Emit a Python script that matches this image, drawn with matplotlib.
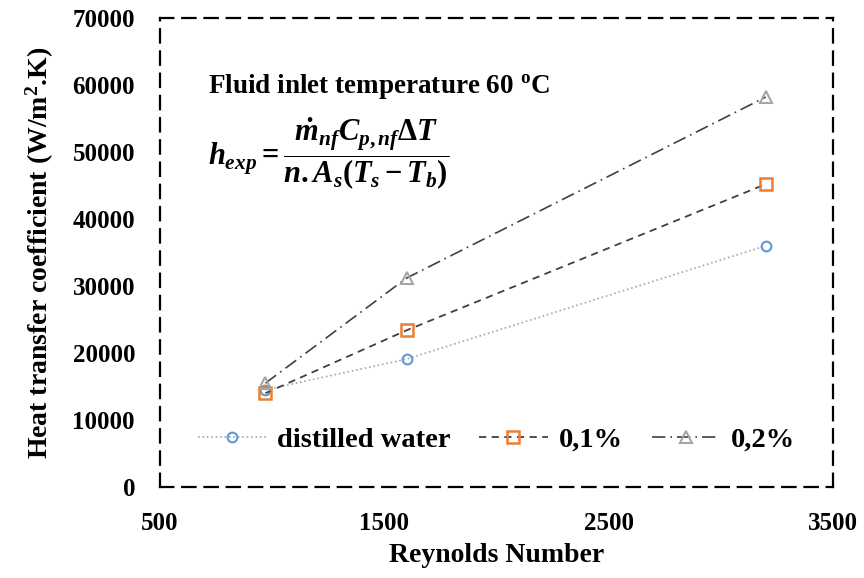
import matplotlib
matplotlib.use("Agg")
import matplotlib.pyplot as plt

re_water = [970, 1600, 3200]
h_water = [14500, 19100, 36000]
re_01 = [970, 1600, 3200]
h_01 = [14000, 23400, 45200]
re_02 = [970, 1600, 3200]
h_02 = [15500, 31200, 58200]
labels = ["distilled water", "0,1%", "0,2%"]
xticks = [500, 1500, 2500, 3500]
yticks = [0, 10000, 20000, 30000, 40000, 50000, 60000, 70000]

plt.rcParams['font.family'] = ['Liberation Serif', 'DejaVu Serif']
plt.rcParams['font.weight'] = 'bold'
plt.rcParams['mathtext.fontset'] = 'custom'
plt.rcParams['mathtext.it'] = 'Liberation Serif:bold:italic'
plt.rcParams['mathtext.rm'] = 'Liberation Serif:bold'
plt.rcParams['mathtext.bf'] = 'Liberation Serif:bold'

fig = plt.figure(figsize=(8.64, 5.78), dpi=100)
ax = fig.add_axes([160/864, 1-487/578, (833-160)/864, (487-18)/578])

ax.plot(re_water, h_water, color='#a6a6a6', linestyle=':', linewidth=1.2,
        marker='o', markersize=7, markerfacecolor='none', markeredgecolor='#5b9bd5',
        markeredgewidth=1.5, label=labels[0])
ax.plot(re_01, h_01, color='#404040', linestyle=(0, (4, 3)), linewidth=1.3,
        marker='s', markersize=8, markerfacecolor='none', markeredgecolor='#ed7d31',
        markeredgewidth=1.8, label=labels[1])
ax.plot(re_02, h_02, color='#404040', linestyle=(0, (8, 3, 1, 3)), linewidth=1.2,
        marker='^', markersize=8, markerfacecolor='none', markeredgecolor='#a5a5a5',
        markeredgewidth=1.5, label=labels[2])

ax.set_xlim(500, 3500)
ax.set_ylim(0, 70000)
ax.set_xticks(xticks)
ax.set_yticks(yticks)
ax.tick_params(axis='y', length=0, labelsize=18, pad=18)
ax.tick_params(axis='x', length=0, labelsize=18, pad=18)
for lab in ax.get_xticklabels() + ax.get_yticklabels():
    lab.set_fontweight('bold')
for s in ax.spines.values():
    s.set_linestyle((0, (6, 4)))
    s.set_linewidth(1.6)
    s.set_color('black')

ax.set_xlabel('Reynolds Number', fontsize=20, fontweight='bold', labelpad=6)
ax.set_ylabel('Heat transfer coefficient (W/m$^{\\mathbf{2}}$.K)', fontsize=20,
              fontweight='bold', labelpad=12)

ax.text(0.071, 0.855, 'Fluid inlet temperature 60 $^{\\mathrm{o}}$C', transform=ax.transAxes,
        fontsize=19.5, fontweight='bold', va='center')
ax.text(0.071, 0.71,
        r'$h_{exp}=\dfrac{\dot{m}_{nf}C_{p,nf}\Delta T}{n.A_s(T_s-T_b)}$',
        transform=ax.transAxes, fontsize=22, va='center')

leg = ax.legend(loc='center', bbox_to_anchor=(0.5, 0.1), ncol=3, frameon=False,
                prop={'size': 20.5, 'weight': 'bold'}, handlelength=2.4, columnspacing=1.0,
                handletextpad=0.4)

fig.savefig('out.png', dpi=100)
